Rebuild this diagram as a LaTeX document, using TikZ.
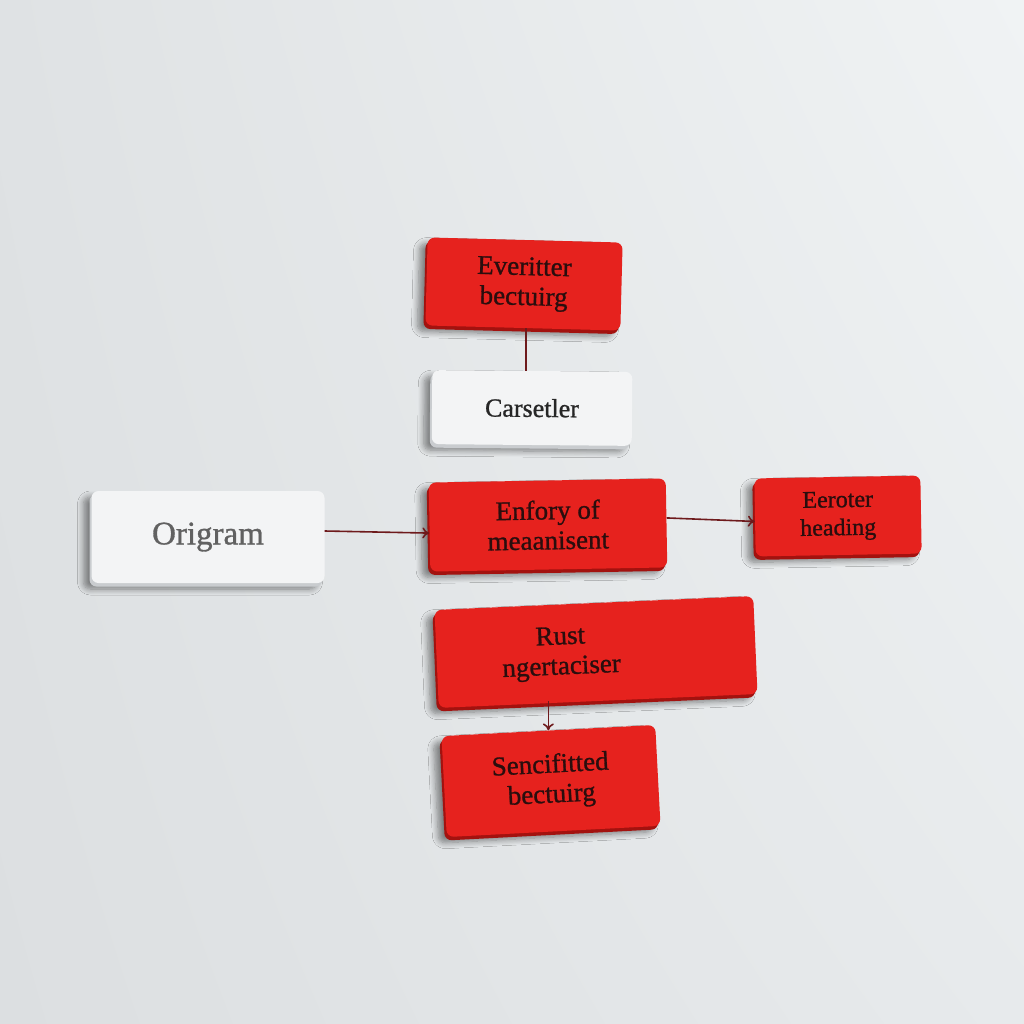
\documentclass[tikz,border=0pt]{standalone}
\usepackage{fontspec}
\setmainfont{Liberation Serif}
\newfontfamily\cardfont{Liberation Serif}[FakeBold=1]
\usetikzlibrary{shadows,shadows.blur,shadings,arrows.meta}
\definecolor{boxred}{HTML}{E6221E}
\definecolor{edgered}{HTML}{A3120F}
\definecolor{boxwhite}{HTML}{F3F4F5}
\definecolor{edgewhite}{HTML}{C9CCCF}
\definecolor{inkred}{HTML}{2A0E0E}
\definecolor{conncol}{HTML}{6E1A1C}
\definecolor{bgUL}{HTML}{DFE2E4}
\definecolor{bgUR}{HTML}{F0F3F4}
\definecolor{bgLL}{HTML}{DCDFE1}
\definecolor{bgLR}{HTML}{E7EAEC}
\begin{document}
\begin{tikzpicture}[x=1pt,y=-1pt,
  card/.style={rectangle, rounded corners=7pt, inner sep=0pt, align=center,
    blur shadow={shadow xshift=-8pt, shadow yshift=-6pt, shadow blur radius=6pt, shadow blur steps=8, shadow opacity=45},
    font=\cardfont\fontsize{27}{30}\selectfont},
  redcard/.style={card, fill=boxred, text=inkred,
    preaction={fill=edgered, transform canvas={xshift=-2pt, yshift=-3.5pt}}},
  whitecard/.style={card, fill=boxwhite, text=black!85,
    preaction={fill=edgewhite, transform canvas={xshift=-2pt, yshift=-3.5pt}}},
  link/.style={draw=conncol, line width=1.6pt},
  arr/.style={link, -{To[length=7pt,width=11pt]}}]
\useasboundingbox (0,0) rectangle (1024,1024);
\shade[upper left=bgUL, upper right=bgUR, lower left=bgLL, lower right=bgLR] (0,0) rectangle (1024,1024);

\node[redcard, minimum width=195pt, minimum height=88pt, rotate=-1.5] (ev) at (524,284) {Everitter\\bectuirg};
\node[whitecard, minimum width=200pt, minimum height=74pt, rotate=-0.5, font=\cardfont\fontsize{26}{30}\selectfont] (ca) at (532,408) {Carsetler};
\node[whitecard, minimum width=233pt, minimum height=92pt, text=black!62, font=\cardfont\fontsize{33}{36}\selectfont] (or) at (208,537) {Origram};
\node[redcard, minimum width=237pt, minimum height=89pt, rotate=1] (en) at (548,525) {Enfory of\\meaanisent};
\node[redcard, minimum width=166pt, minimum height=78pt, rotate=1, font=\cardfont\fontsize{24}{28}\selectfont] (ee) at (838,516) {Eeroter\\heading};
\node[redcard, minimum width=319pt, minimum height=98pt, rotate=2.5, text width=300pt] (ru) at (596,652) {\hspace*{-70pt}Rust\\\hspace*{-70pt}ngertaciser};
\node[redcard, minimum width=214pt, minimum height=101pt, rotate=3] (se) at (551,781) {Sencifitted\\bectuirg};

\draw[link] ([xshift=3pt]ev.south) -- ([xshift=3pt]ev.south |- ca.north);
\draw[arr] ([yshift=6pt]or.east) -- ([yshift=-6pt]en.west);
\draw[arr] ([yshift=5pt]en.east) -- ([yshift=-4pt]ee.west);
\draw[arr] (ru.south -| se.north) -- (se.north);
\end{tikzpicture}
\end{document}
